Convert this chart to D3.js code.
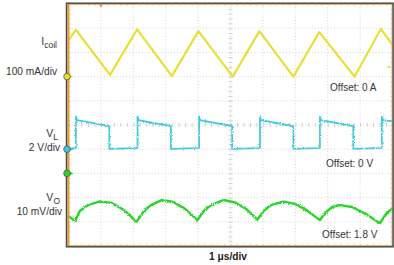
<!DOCTYPE html>
<html>
<head>
<meta charset="utf-8">
<script src="https://cdn.jsdelivr.net/npm/d3@7"></script>
<style>
	body { margin:0; background:#fff; }
	svg { display:block; font-family: "Liberation Sans", Arial, sans-serif; }
</style>
</head>
<body>
<div id="scope"></div>
<script>
// time axis in us (10 div, 1 us/div)
// coil current, mA
const coilTimes   = [0, 0.23, 1.28, 2.12, 3.19, 4.01, 5.07, 5.89, 6.94, 7.74, 8.83, 9.64, 10];
const coilCurrent = [151, 193, 7, 195, 2, 188, 0, 188, 0, 184, 0, 197, 131];

// switch node V_L, volts
const vlTimes = [0, 0.23, 0.23, 0.26, 1.26, 1.26, 2.13, 2.13, 2.16, 3.16, 3.16, 4.03, 4.03, 4.06, 5.05, 5.05,
	5.91, 5.91, 5.94, 6.94, 6.94, 7.76, 7.76, 7.79, 8.79, 8.79, 9.67, 9.67, 9.70, 10];
const vlVolts = [0.05, 0.1, 2.7, 2.4, 1.9, 0.02, 0.1, 2.7, 2.4, 1.9, 0.02, 0.1, 2.7, 2.4, 1.9, 0.02,
	0.1, 2.7, 2.4, 1.9, 0.02, 0.1, 2.7, 2.4, 1.9, 0.02, 0.1, 2.7, 2.4, 2.3];

// output ripple V_O, mV around the 1.8 V offset
const voTimes = [0, 0.20, 0.35, 0.60, 0.97, 1.34, 1.71, 2.10, 2.30, 2.52, 2.88, 3.23, 3.60, 3.98, 4.18, 4.40,
	4.78, 5.14, 5.48, 5.83, 6.03, 6.25, 6.63, 6.99, 7.36, 7.76, 7.95, 8.14, 8.38, 8.75, 9.18, 9.61, 9.80, 10];
const voMillivolts = [-17.6, -19.7, -15.5, -13.1, -11.6, -12.2, -15.1, -20.0, -16.0, -13.3, -11.0, -11.8, -14.7, -19.3, -15.5, -13.1,
	-11.0, -12.0, -14.7, -19.1, -15.5, -13.1, -11.7, -12.6, -15.3, -19.3, -16.0, -13.9, -13.1, -13.9, -16.8, -20.6, -16.8, -14.3];

// channel setup
const channelMarkerDiv = [2, -1, -2];     // ground marker, div from center
const channelPerDiv    = [100, 2, 10];    // mA, V, mV per div
const channelColors    = ["#e6df2e", "#3cc8de", "#27d627"];
const channelNames     = [["I", "coil"], ["V", "L"], ["V", "O"]];
const scaleLabels      = ["100 mA/div", "2 V/div", "10 mV/div"];
const offsetLabels     = ["Offset: 0 A", "Offset: 0 V", "Offset: 1.8 V"];
const timeLabel        = "1 \u03bcs/div";
const timeDivs = 10;
const vertDivs = 10;

class ScopeChart {
	constructor(selector){
		this.elementName = selector;
		this.width = 394;
		this.height = 265;
		this.plot = {x:68.5, y:4, w:324, h:242};
		this.svg = null;

		this.xScale = d3.scaleLinear()
			.domain([0, timeDivs])
			.range([this.plot.x, this.plot.x + this.plot.w]);

		// vertical position in divisions, 0 = center line
		this.divScale = d3.scaleLinear()
			.domain([-vertDivs/2, vertDivs/2])
			.range([this.plot.y + this.plot.h, this.plot.y]);

		this.yScales = channelPerDiv.map((perDiv, i) => {
			let lo = (-vertDivs/2 - channelMarkerDiv[i]) * perDiv;
			let hi = ( vertDivs/2 - channelMarkerDiv[i]) * perDiv;
			return d3.scaleLinear().domain([lo, hi]).range(this.divScale.range());
		});
	}

	renderChart(){
		this.svg = d3.select(this.elementName).append("svg")
			.attr("width", this.width)
			.attr("height", this.height);

		this.svg.append("rect").attr("width", this.width).attr("height", this.height).attr("fill", "#fff");

		// scope trace grain
		let defs = this.svg.append("defs");
		[["fuzzLight", 1.6], ["fuzzHeavy", 3]].forEach((fz) => {
			let f = defs.append("filter").attr("id", fz[0])
				.attr("x", "-5%").attr("y", "-40%").attr("width", "110%").attr("height", "180%");
			f.append("feTurbulence").attr("type", "fractalNoise").attr("baseFrequency", 0.9).attr("numOctaves", 1).attr("seed", 4).attr("result", "n");
			f.append("feDisplacementMap").attr("in", "SourceGraphic").attr("in2", "n").attr("scale", fz[1])
				.attr("xChannelSelector", "R").attr("yChannelSelector", "G");
		});

		this.drawGrid();
		this.drawTraces();
		this.drawFrame();
		this.drawLabels();
	}

	drawGrid(){
		let g = this.svg.append("g").attr("class", "grid");
		let p = this.plot;

		g.selectAll(".vline")
			.data(d3.range(1, timeDivs))
			.enter().append("line")
			.attr("x1", (d) => this.xScale(d)).attr("x2", (d) => this.xScale(d))
			.attr("y1", p.y).attr("y2", p.y + p.h)
			.attr("stroke", "#c9c9c9").attr("stroke-width", 0.8).attr("stroke-dasharray", "1,2.2");

		g.selectAll(".hline")
			.data(d3.range(-vertDivs/2 + 1, vertDivs/2))
			.enter().append("line")
			.attr("x1", p.x).attr("x2", p.x + p.w)
			.attr("y1", (d) => this.divScale(d)).attr("y2", (d) => this.divScale(d))
			.attr("stroke", "#c9c9c9").attr("stroke-width", 0.8).attr("stroke-dasharray", "1,2.2");

		// minor ticks, 5 per div, on center cross and frame edges
		let xMinor = d3.range(0, timeDivs + 0.01, 0.2);
		let yMinor = d3.range(-vertDivs/2, vertDivs/2 + 0.01, 0.2);
		let cy = this.divScale(0), cx = this.xScale(timeDivs/2);

		let axes = [
			[d3.axisBottom(this.xScale).tickValues(xMinor), 0, cy],
			[d3.axisTop(this.xScale).tickValues(xMinor), 0, cy],
			[d3.axisBottom(this.xScale).tickValues(xMinor), 0, p.y],
			[d3.axisTop(this.xScale).tickValues(xMinor), 0, p.y + p.h],
			[d3.axisRight(this.divScale).tickValues(yMinor), cx, 0],
			[d3.axisLeft(this.divScale).tickValues(yMinor), cx, 0],
			[d3.axisRight(this.divScale).tickValues(yMinor), p.x, 0],
			[d3.axisLeft(this.divScale).tickValues(yMinor), p.x + p.w, 0]
		];
		axes.forEach((a) => {
			let ax = g.append("g")
				.attr("transform", "translate(" + a[1] + "," + a[2] + ")")
				.call(a[0].tickSize(2).tickFormat(""));
			ax.select(".domain").remove();
			ax.selectAll("line").attr("stroke", "#c4c4c4").attr("stroke-width", 0.8);
		});
	}

	drawTraces(){
		let series = [
			[coilTimes, coilCurrent, 2.1, "fuzzLight"],
			[vlTimes, vlVolts, 1.7, "fuzzHeavy"],
			[voTimes, voMillivolts, 2.4, "fuzzHeavy"]
		];
		let g = this.svg.append("g").attr("class", "traces");

		series.forEach((s, i) => {
			let pts = s[0].map((t, k) => [t, s[1][k]]);
			let line = d3.line()
				.x((d) => this.xScale(d[0]))
				.y((d) => this.yScales[i](d[1]));
			g.append("path")
				.datum(pts)
				.attr("d", line)
				.attr("fill", "none")
				.attr("stroke", channelColors[i])
				.attr("stroke-width", s[2])
				.attr("stroke-linejoin", "round")
				.attr("filter", "url(#" + s[3] + ")");
		});

		// yellow trigger level dot at right edge
		g.append("rect")
			.attr("x", this.xScale(timeDivs) - 5).attr("y", this.yScales[0](40) - 1)
			.attr("width", 2.5).attr("height", 2)
			.attr("fill", channelColors[0]);
	}

	drawFrame(){
		let p = this.plot;
		let g = this.svg.append("g").attr("class", "frame");

		g.append("rect")
			.attr("x", p.x - 0.5).attr("y", p.y + 0.5)
			.attr("width", p.w).attr("height", p.h - 1)
			.attr("fill", "none").attr("stroke", "#e6b36a").attr("stroke-width", 1);
		g.append("line")
			.attr("x1", p.x).attr("x2", p.x)
			.attr("y1", p.y).attr("y2", p.y + p.h)
			.attr("stroke", "#eb9f2e").attr("stroke-width", 2);
		g.append("rect")
			.attr("x", p.x - 2).attr("y", p.y - 0.8)
			.attr("width", p.w + 2.6).attr("height", p.h + 1.6)
			.attr("fill", "none").attr("stroke", "#4b4b4b").attr("stroke-width", 1.5);

		// trigger position marker at top
		let tx = this.xScale(1);
		g.append("path")
			.attr("d", "M" + (tx - 2) + "," + (p.y + 0.5) + "L" + (tx + 2) + "," + (p.y + 0.5) + "L" + tx + "," + (p.y + 3.5) + "Z")
			.attr("fill", "#e8892a");

		// channel ground markers on the left edge
		let m = g.selectAll(".marker")
			.data(channelMarkerDiv)
			.enter().append("g")
			.attr("class", "marker")
			.attr("transform", (d) => "translate(" + (p.x - 1.5) + "," + this.divScale(d) + ")");
		m.append("path")
			.attr("d", "M2,-2.2L6.5,0L2,2.2Z")
			.attr("fill", (d, i) => channelColors[i]);
		m.append("circle")
			.attr("r", 3.3)
			.attr("fill", (d, i) => channelColors[i])
			.attr("stroke", "#555").attr("stroke-width", 0.8);
	}

	drawLabels(){
		let g = this.svg.append("g").attr("class", "labels").attr("fill", "#333");

		let nameY = [45, 137, 201];
		let nameX = [57, 58, 60];
		let scaleY = [75, 151, 214.5];
		let scaleX = [57, 60, 62];

		channelNames.forEach((n, i) => {
			let t = g.append("text")
				.attr("x", nameX[i]).attr("y", nameY[i])
				.attr("text-anchor", "end")
				.attr("font-size", 10.5);
			t.append("tspan").text(n[0]);
			t.append("tspan").attr("dy", 3).attr("font-size", 8.5).text(n[1]);

			g.append("text")
				.attr("x", scaleX[i]).attr("y", scaleY[i])
				.attr("text-anchor", "end")
				.attr("font-size", 10.2)
				.text(scaleLabels[i]);
		});

		let offX = [330, 326, 322];
		let offY = [91, 166.5, 238];
		offsetLabels.forEach((o, i) => {
			g.append("text")
				.attr("x", offX[i]).attr("y", offY[i])
				.attr("font-size", 10)
				.text(o);
		});

		g.append("text")
			.attr("x", 228).attr("y", 260)
			.attr("text-anchor", "middle")
			.attr("font-size", 10.2)
			.attr("font-weight", "bold")
			.attr("fill", "#222")
			.text(timeLabel);
	}
}

const chart = new ScopeChart("#scope");
chart.renderChart();
</script>
</body>
</html>
